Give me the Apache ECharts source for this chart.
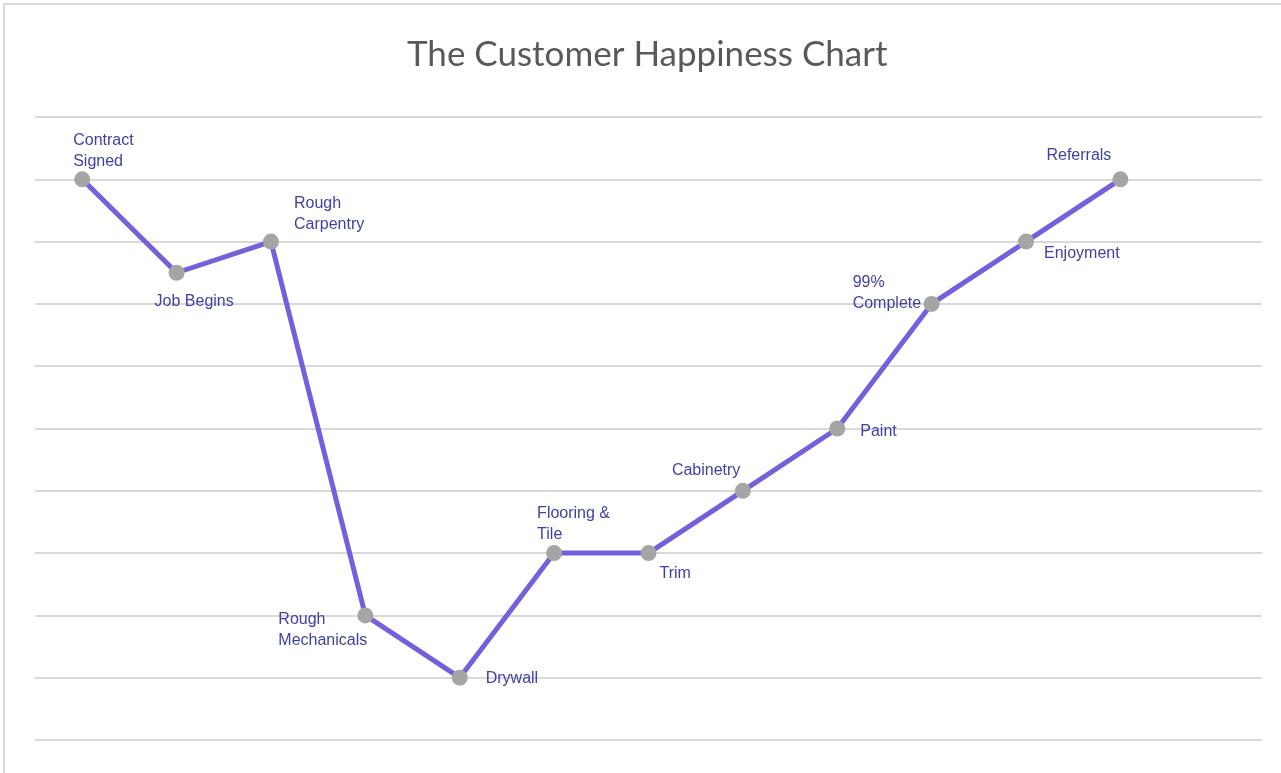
<!DOCTYPE html>
<html>
<head>
<meta charset="utf-8">
<script src="https://cdn.jsdelivr.net/npm/echarts@6/dist/echarts.min.js"></script>
<style>html,body{margin:0;padding:0;background:#fff;}#c{width:1281px;height:773px;}</style>
</head>
<body>
<div id="c"></div>
<script>
// ---- data ----
const categories = ['Contract\nSigned', 'Job Begins', 'Rough\nCarpentry', 'Rough\nMechanicals', 'Drywall',
  'Flooring &\nTile', 'Trim', 'Cabinetry', 'Paint', '99%\nComplete', 'Enjoyment', 'Referrals'];
const happiness = [9, 7.5, 8, 2, 1, 3, 3, 4, 5, 7, 8, 9];

// ---- label styling (offsets from point centre, px) ----
const labelOffsets = [[-9,-28],[-22,29],[23,-28],[-87,15],[26,1],[-17,-29],[11,20],[-71,-20],[23,3],[-79,-11],[18,12],[-74,-24]];

const chart = echarts.init(document.getElementById('c'));
const seriesData = happiness.map((v, i) => ({
  value: [i, v],
  label: {
    show: true,
    formatter: categories[i],
    position: 'inside',
    align: 'left',
    verticalAlign: 'middle',
    offset: labelOffsets[i]
  }
}));

chart.setOption({
  backgroundColor: '#fff',
  animation: false,
  title: {
    text: 'The Customer Happiness Chart',
    left: 402,
    top: 32,
    textStyle: { fontFamily: 'Lato', fontSize: 35, fontWeight: 'normal', color: '#595959' }
  },
  graphic: [{
    type: 'rect', shape: { x: 4, y: 4, width: 1400, height: 900 },
    style: { fill: 'none', stroke: '#d9d9d9', lineWidth: 2 }, silent: true
  }],
  grid: { left: 35, right: 19, top: 117, bottom: 33 },
  xAxis: {
    type: 'value', min: -0.5, max: 12.5,
    show: false, splitLine: { show: false }
  },
  yAxis: {
    type: 'value', min: 0, max: 10, interval: 1,
    axisLabel: { show: false }, axisLine: { show: false }, axisTick: { show: false },
    splitLine: { lineStyle: { color: '#d9d9d9', width: 2 } }
  },
  series: [{
    type: 'line',
    data: seriesData,
    symbol: 'circle',
    symbolSize: 16,
    lineStyle: { color: '#7260dc', width: 5 },
    itemStyle: { color: '#a5a5a5' },
    label: {
      fontFamily: 'Liberation Sans, Arial, sans-serif',
      fontSize: 16, color: '#3f3fa6', lineHeight: 21
    },
    z: 3
  }]
});
</script>
</body>
</html>
